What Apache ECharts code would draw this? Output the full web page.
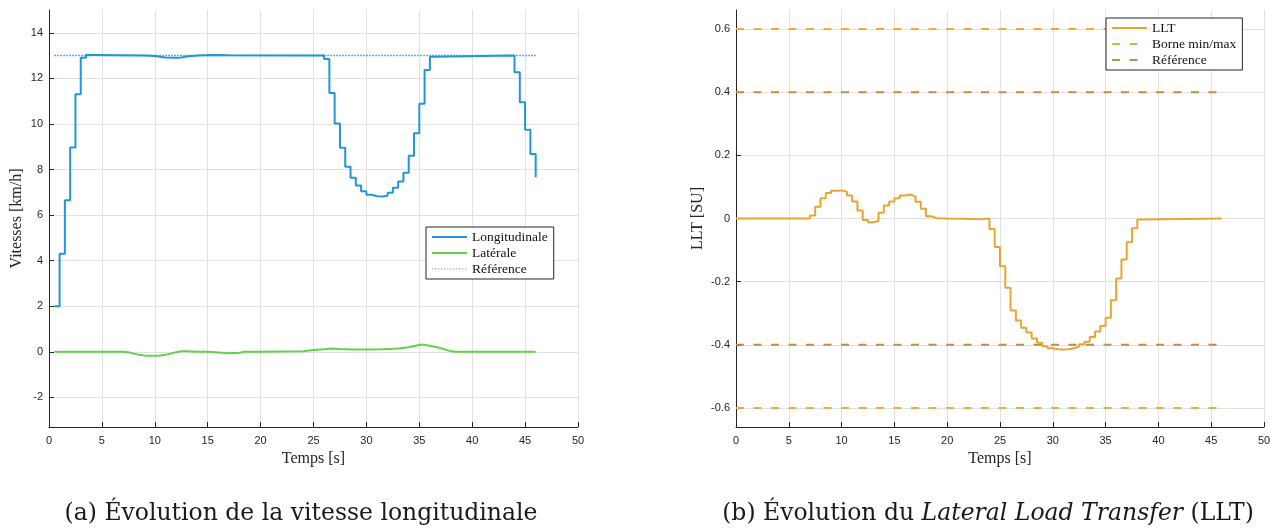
<!DOCTYPE html>
<html>
<head>
<meta charset="utf-8">
<script src="https://cdn.jsdelivr.net/npm/echarts@6/dist/echarts.min.js"></script>
<style>
html,body{margin:0;padding:0;background:#fff;}
#c{width:1282px;height:530px;}
</style>
</head>
<body>
<div id="c"></div>
<script>
// ---- Data ----
// Longitudinal speed (stairs, value held from t until next t)
const longT = [0.5, 1.0, 1.5, 2.0, 2.5, 3.0, 3.5, 4.0, 9.0, 10.0, 10.5, 11.0, 12.0, 12.5, 13.0, 14.0, 15.5, 17.0,
  26.0, 26.5, 27.0, 27.5, 28.0, 28.5, 29.0, 29.5, 30.0, 30.5, 31.0, 31.5, 32.0, 32.5, 33.0, 33.5, 34.0, 34.5,
  35.0, 35.5, 36.0, 36.5, 44.0, 44.5, 45.0, 45.5, 46.0];
const longV = [2.0, 4.3, 6.65, 8.97, 11.3, 12.9, 13.03, 13.0, 12.98, 12.95, 12.92, 12.9, 12.92, 12.96, 13.0, 13.03, 13.01, 13.0,
  12.85, 11.36, 10.02, 8.96, 8.12, 7.64, 7.3, 7.05, 6.89, 6.83, 6.82, 6.85, 6.98, 7.2, 7.47, 7.86, 8.6, 9.59,
  10.89, 12.37, 12.95, 13.0, 12.27, 10.95, 9.74, 8.68, 7.66];
// Lateral speed
const latT = [0.5, 7.0, 7.5, 8.0, 8.5, 9.0, 9.5, 10.0, 10.5, 11.0, 11.5, 12.0, 12.5, 13.0, 14.0, 15.0, 16.0, 17.0, 18.0, 18.5,
  20.0, 22.0, 24.0, 25.0, 26.0, 26.7, 27.5, 28.5, 30.0, 31.5, 33.0, 34.0, 35.2, 36.0, 37.0, 38.0, 38.5, 46.0];
const latV = [0, 0, -0.02, -0.08, -0.13, -0.16, -0.17, -0.17, -0.16, -0.13, -0.08, -0.02, 0.02, 0.02, 0.0, 0.0, -0.03, -0.06, -0.04, 0,
  0, 0.01, 0.02, 0.08, 0.11, 0.15, 0.12, 0.1, 0.1, 0.11, 0.14, 0.2, 0.32, 0.27, 0.17, 0.02, 0, 0];
// Speed reference
const refSpeedT = [0.5, 46.0];
const refSpeedV = [13, 13];

// LLT (stairs)
const lltT = [0, 7.0, 7.5, 8.0, 8.5, 9.0, 9.5, 10.0, 10.5, 11.0, 11.5, 12.0, 12.5, 13.0, 13.5, 14.0, 14.5, 15.0, 15.5, 16.0,
  16.5, 17.0, 17.5, 18.0, 18.5, 19.0, 20.0, 21.5, 23.0, 24.0, 24.5, 25.0, 25.5, 26.0, 26.5, 27.0, 27.5, 28.0, 28.5,
  29.0, 29.5, 30.0, 30.5, 31.0, 31.5, 32.0, 32.5, 33.0, 33.5, 34.0, 34.5, 35.0, 35.5, 36.0, 36.5, 37.0, 37.5, 38.0, 38.5, 46.0];
const lltV = [0, 0.0095, 0.037, 0.064, 0.081, 0.088, 0.089, 0.085, 0.073, 0.054, 0.025, -0.005, -0.012, -0.008, 0.018, 0.041, 0.054, 0.064, 0.073, 0.076,
  0.07, 0.053, 0.031, 0.007, 0.001, 0.0, -0.001, -0.002, 0.0, -0.033, -0.09, -0.151, -0.219, -0.291, -0.323, -0.346, -0.361, -0.38, -0.393,
  -0.404, -0.411, -0.414, -0.415, -0.414, -0.411, -0.405, -0.398, -0.39, -0.375, -0.358, -0.34, -0.314, -0.259, -0.19, -0.13, -0.075, -0.031, -0.003, 0, 0];
// Bounds and reference for LLT
const boundT = [0, 46];
const boundMax = [0.6, 0.6];
const boundMin = [-0.6, -0.6];
const lltRefMax = [0.4, 0.4];
const lltRefMin = [-0.4, -0.4];

// Tick values
const speedTicks = [-2, 0, 2, 4, 6, 8, 10, 12, 14];
const lltTicks = [-0.6, -0.4, -0.2, 0, 0.2, 0.4, 0.6];

const zip = (t, v) => t.map((x, i) => [x, v[i]]);

// ---- Styles ----
const cBlue = '#2196DA';
const cGreen = '#62D348';
const cOrange = '#EBA432';
const cBound = '#EFAC3E';
const cRef = '#C08C47';
const axisCol = '#262626';
const gridCol = '#e2e2e2';
const serif = '"Liberation Serif", "DejaVu Serif", serif';
const capSerif = '"DejaVu Serif", serif';
const sans = '"Liberation Sans", Arial, sans-serif';

function xAx(gi) {
  return {
    type: 'value', gridIndex: gi, min: 0, max: 50, interval: 5,
    name: 'Temps [s]', nameLocation: 'middle', nameGap: 19,
    nameTextStyle: { fontFamily: serif, fontSize: 16, color: axisCol },
    axisLine: { show: true, onZero: false, lineStyle: { color: axisCol, width: 1 } },
    axisTick: { show: true, inside: true, length: 5, lineStyle: { color: axisCol } },
    axisLabel: { fontFamily: sans, fontSize: 11, color: axisCol, margin: 8 },
    splitLine: { show: true, lineStyle: { color: gridCol, width: 1 } }
  };
}
function yAx(gi, min, max, ticks, name, gap) {
  return {
    type: 'value', gridIndex: gi, min: min, max: max,
    name: name, nameLocation: 'middle', nameGap: gap,
    nameTextStyle: { fontFamily: serif, fontSize: 16, color: axisCol },
    axisLine: { show: true, onZero: false, lineStyle: { color: axisCol, width: 1 } },
    axisTick: { show: true, inside: true, length: 5, customValues: ticks, lineStyle: { color: axisCol } },
    axisLabel: { fontFamily: sans, fontSize: 11, color: axisCol, margin: 6, customValues: ticks },
    splitLine: { show: true, lineStyle: { color: gridCol, width: 1 } }
  };
}

const legendCommon = {
  orient: 'vertical', itemWidth: 35, itemHeight: 14, itemGap: 2,
  padding: [3, 6, 3, 5], borderColor: axisCol, borderWidth: 1, backgroundColor: '#fff',
  itemStyle: { opacity: 0 },
  textStyle: { fontFamily: serif, fontSize: 13.5, color: '#111' }, selectedMode: false
};

const option = {
  animation: false,
  backgroundColor: '#fff',
  title: [
    { text: '(a) Évolution de la vitesse longitudinale', left: 301, textAlign: 'center', top: 502, padding: 0,
      textStyle: { fontFamily: capSerif, fontSize: 23.5, fontWeight: 'normal', color: '#1a1a1a' } },
    { text: '(b) Évolution du {i|Lateral Load Transfer} (LLT)', left: 988, textAlign: 'center', top: 502, padding: 0,
      textStyle: { fontFamily: capSerif, fontSize: 23.5, fontWeight: 'normal', color: '#1a1a1a',
        rich: { i: { fontFamily: capSerif, fontSize: 23.5, fontStyle: 'italic', color: '#1a1a1a' } } } }
  ],
  grid: [
    { left: 49, right: 704, top: 10, bottom: 103 },
    { left: 736, right: 18, top: 10, bottom: 103 }
  ],
  xAxis: [xAx(0), xAx(1)],
  yAxis: [
    yAx(0, -3.3, 15, speedTicks, 'Vitesses [km/h]', 24),
    yAx(1, -0.66, 0.66, lltTicks, 'LLT [SU]', 30)
  ],
  legend: [
    Object.assign({}, legendCommon, { left: 426, top: 227,
      data: ['Longitudinale', 'Latérale', { name: 'Référence', lineStyle: { color: '#9a9a9a', width: 1 } }] }),
    Object.assign({}, legendCommon, { left: 1106, top: 18,
      data: ['LLT', 'Borne min/max', 'Référence '] })
  ],
  series: [
    { name: 'Longitudinale', type: 'line', xAxisIndex: 0, yAxisIndex: 0, step: 'end', symbol: 'none',
      data: zip(longT, longV), lineStyle: { color: cBlue, width: 2 }, itemStyle: { color: cBlue } },
    { name: 'Latérale', type: 'line', xAxisIndex: 0, yAxisIndex: 0, symbol: 'none',
      data: zip(latT, latV), lineStyle: { color: cGreen, width: 2 }, itemStyle: { color: cGreen } },
    { name: 'Référence', type: 'line', xAxisIndex: 0, yAxisIndex: 0, symbol: 'none',
      data: zip(refSpeedT, refSpeedV), lineStyle: { color: cBlue, width: 1.5, type: [1.5, 1.5] }, itemStyle: { color: cBlue } },

    { name: 'Borne min/max', type: 'line', xAxisIndex: 1, yAxisIndex: 1, symbol: 'none',
      data: zip(boundT, boundMax), lineStyle: { color: cBound, width: 2, type: [8, 9.5] }, itemStyle: { color: cBound } },
    { name: 'Borne min/max', type: 'line', xAxisIndex: 1, yAxisIndex: 1, symbol: 'none',
      data: zip(boundT, boundMin), lineStyle: { color: cBound, width: 2, type: [8, 9.5] }, itemStyle: { color: cBound } },
    { name: 'Référence ', type: 'line', xAxisIndex: 1, yAxisIndex: 1, symbol: 'none',
      data: zip(boundT, lltRefMax), lineStyle: { color: cRef, width: 2, type: [8, 9.5] }, itemStyle: { color: cRef } },
    { name: 'Référence ', type: 'line', xAxisIndex: 1, yAxisIndex: 1, symbol: 'none',
      data: zip(boundT, lltRefMin), lineStyle: { color: cRef, width: 2, type: [8, 9.5] }, itemStyle: { color: cRef } },
    { name: 'LLT', type: 'line', xAxisIndex: 1, yAxisIndex: 1, step: 'end', symbol: 'none', z: 3,
      data: zip(lltT, lltV), lineStyle: { color: cOrange, width: 2 }, itemStyle: { color: cOrange } }
  ]
};

const chart = echarts.init(document.getElementById('c'), null, { renderer: 'canvas' });
chart.setOption(option);
</script>
</body>
</html>
